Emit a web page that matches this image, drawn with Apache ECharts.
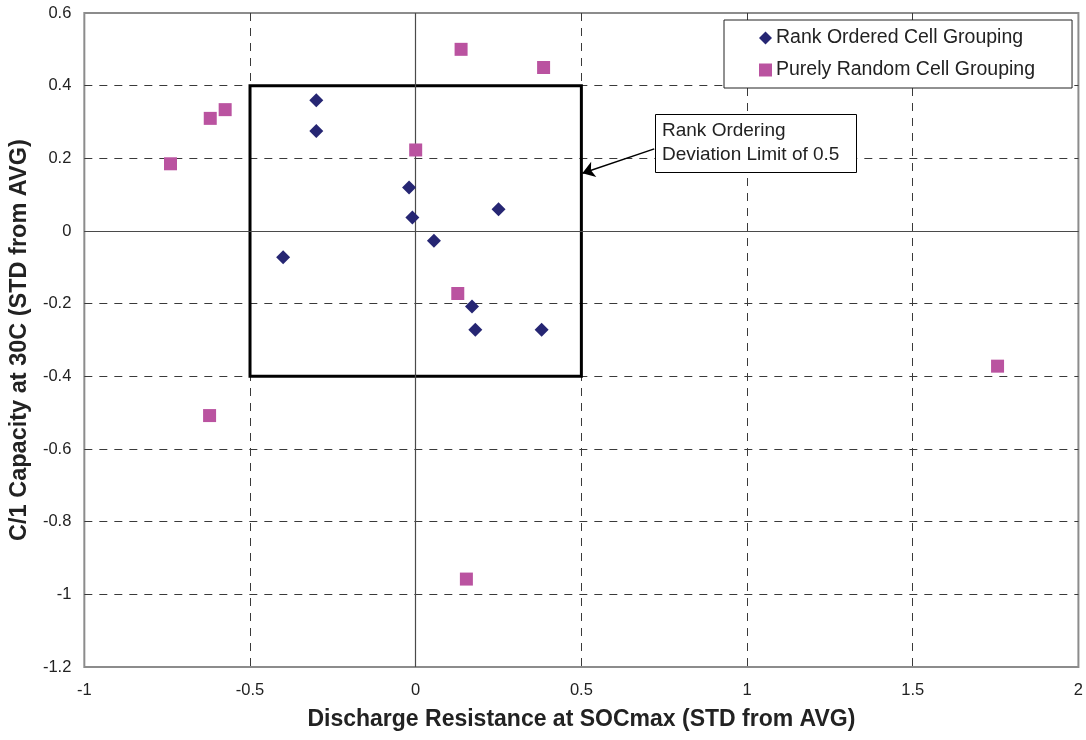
<!DOCTYPE html>
<html>
<head>
<meta charset="utf-8">
<script src="https://cdn.jsdelivr.net/npm/echarts@6.0.0/dist/echarts.min.js"></script>
<style>
  html, body { margin: 0; padding: 0; background: #fff; }
  #chart { width: 1086px; height: 740px; }
</style>
</head>
<body>
<div id="chart"></div>
<script>
// Rank ordered cell grouping (diamonds)
const rankX = [-0.30, -0.30, -0.40, -0.02, -0.01, 0.25, 0.055, 0.17, 0.18, 0.38]
const rankY = [0.36, 0.275, -0.072, 0.12, 0.037, 0.06, -0.027, -0.208, -0.272, -0.272]
// Purely random cell grouping (squares)
const randX = [-0.74, -0.62, -0.575, 0.0, 0.137, 0.386, 0.127, -0.622, 0.153, 1.756]
const randY = [0.185, 0.31, 0.334, 0.223, 0.5, 0.45, -0.172, -0.508, -0.958, -0.372]

const seriesNames = ['Rank Ordered Cell Grouping', 'Purely Random Cell Grouping']
const xTitle = 'Discharge Resistance at SOCmax (STD from AVG)'
const yTitle = 'C/1 Capacity at 30C (STD from AVG)'
// deviation limit box corners and arrow for the note
const limitBox = [[-0.5, 0.4], [0.5, -0.4]]
const arrowLine = [[0.72, 0.226], [0.503, 0.159]]

const FONT = '"Liberation Sans", Arial, sans-serif'

const chart = echarts.init(document.getElementById('chart'))

const gridLine = {
  show: true,
  showMinLine: false,
  showMaxLine: false,
  lineStyle: { color: '#3a3a3a', type: [8, 7], width: 1 }
}

chart.setOption({
  animation: false,
  textStyle: { fontFamily: FONT },
  grid: {
    left: 84,
    top: 13,
    right: 7,
    bottom: 73,
    show: true,
    borderColor: '#8c8c8c',
    borderWidth: 2,
    backgroundColor: '#fff'
  },
  legend: {
    orient: 'vertical',
    left: 724,
    top: 20,
    padding: [8, 37, 8, 35],
    itemGap: 12,
    itemWidth: 13,
    itemHeight: 13,
    itemStyle: { borderWidth: 0 },
    borderColor: '#222',
    borderWidth: 1,
    backgroundColor: '#fff',
    textStyle: { fontSize: 19.5, color: '#222', fontFamily: FONT, padding: [0, 0, 0, -1] },
    data: [
      { name: seriesNames[0], icon: 'diamond' },
      { name: seriesNames[1], icon: 'rect' }
    ]
  },
  xAxis: {
    type: 'value',
    min: -1,
    max: 2,
    interval: 0.5,
    name: xTitle,
    nameLocation: 'middle',
    nameGap: 41,
    nameTextStyle: { fontSize: 23, fontWeight: 'bold', color: '#222', fontFamily: FONT },
    axisLine: { show: false, onZero: false },
    axisTick: { show: false },
    axisLabel: { fontSize: 16.5, color: '#222', margin: 15, fontFamily: FONT },
    splitLine: gridLine
  },
  yAxis: {
    type: 'value',
    min: -1.2,
    max: 0.6,
    interval: 0.2,
    name: yTitle,
    nameLocation: 'middle',
    nameGap: 51,
    nameTextStyle: { fontSize: 23.5, fontWeight: 'bold', color: '#222', fontFamily: FONT },
    axisLine: { show: false, onZero: false },
    axisTick: { show: false },
    axisLabel: {
      fontSize: 16.5,
      color: '#222',
      margin: 13,
      fontFamily: FONT,
      formatter: v => String(Math.round(v * 10) / 10)
    },
    splitLine: gridLine
  },
  series: [
    {
      name: seriesNames[0],
      type: 'scatter',
      symbol: 'diamond',
      symbolSize: 14,
      z: 5,
      itemStyle: { color: '#262673', opacity: 1 },
      data: rankX.map((x, i) => [x, rankY[i]]),
      markLine: {
        silent: true,
        symbol: ['none', 'none'],
        label: { show: false },
        lineStyle: { color: '#4a4a4a', type: 'solid', width: 1.2 },
        data: [{ xAxis: 0 }, { yAxis: 0 }]
      },
      markArea: {
        silent: true,
        itemStyle: { color: 'rgba(0,0,0,0)', borderColor: '#000', borderWidth: 3 },
        data: [[
          { coord: limitBox[0] },
          { coord: limitBox[1] }
        ]]
      }
    },
    {
      name: seriesNames[1],
      type: 'scatter',
      symbol: 'rect',
      symbolSize: 13,
      z: 5,
      itemStyle: { color: '#ba53a0', opacity: 1 },
      data: randX.map((x, i) => [x, randY[i]]),
      markLine: {
        silent: true,
        z: 10,
        symbol: ['none', 'arrow'],
        symbolSize: 12,
        label: { show: false },
        lineStyle: { color: '#000', type: 'solid', width: 1.5 },
        data: [[
          { coord: arrowLine[0] },
          { coord: arrowLine[1], symbol: 'arrow', symbolSize: 12 }
        ]]
      }
    }
  ],
  graphic: [
    {
      type: 'rect',
      left: 655,
      top: 114,
      z: 100,
      shape: { width: 201, height: 58 },
      style: { fill: '#fff', stroke: '#000', lineWidth: 1 }
    },
    {
      type: 'text',
      left: 662,
      top: 119,
      z: 101,
      style: {
        text: 'Rank Ordering\nDeviation Limit of 0.5',
        font: '19px ' + FONT,
        lineHeight: 24,
        fill: '#222'
      }
    }
  ]
})
</script>
</body>
</html>
